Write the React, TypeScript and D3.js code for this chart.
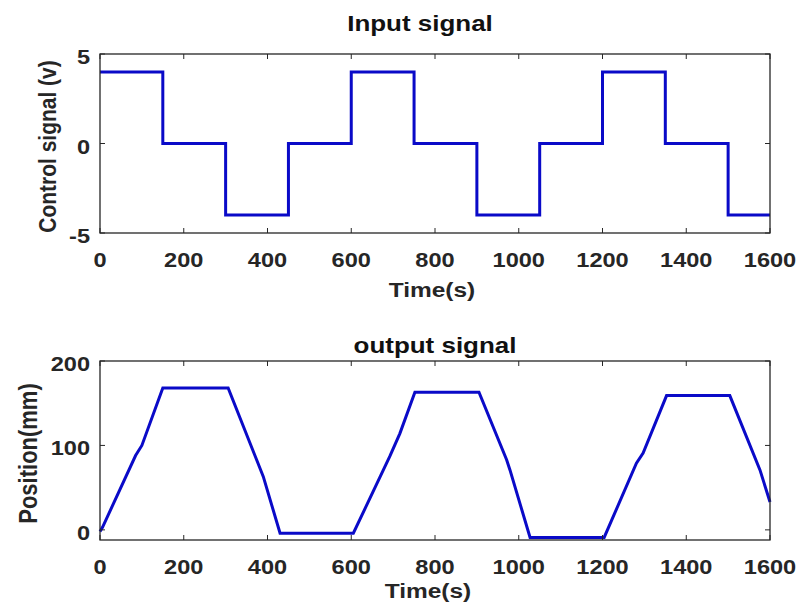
import React from "react";
import * as d3 from "d3";

const timeTicks = [0, 200, 400, 600, 800, 1000, 1200, 1400, 1600];
const inputTicks = [-5, 0, 5];
const outputTicks = [0, 100, 200];

const inputTime = [0, 150, 300, 450, 600, 750, 900, 1050, 1200, 1350, 1500, 1600];
const inputValue = [4, 0, -4, 0, 4, 0, -4, 0, 4, 0, -4, -4];

const outputTime = [0, 6, 85, 100, 150, 306, 374, 390, 430, 605, 692, 716, 752, 905, 971, 979, 1027, 1204, 1281, 1297, 1353, 1504, 1576, 1600];
const outputValue = [-2, 3, 88, 100, 168, 168, 83, 63, -4, -4, 87, 114, 163, 163, 83, 71, -9, -9, 79, 91, 159, 159, 71, 33];

const FONT = "'Liberation Sans', Arial, sans-serif";
const SX = 1.15;
const LINE = "#0a0ac8";
const AXIS = "#262626";

type PanelProps = {
  top: number;
  bottom: number;
  yDomain: [number, number];
  yTicks: number[];
  times: number[];
  values: number[];
  step: boolean;
  title: string;
  titleX: number;
  titleY: number;
  yLabel: string;
  yLabelX: number;
  yLabelSize: number;
  xLabelX: number;
  xLabelY: number;
};

const left = 100;
const right = 770;

function Txt(props: { x: number; y: number; size: number; anchor?: string; rotate?: boolean; fill?: string; sx?: number; children: React.ReactNode }) {
  const { x, y, size, anchor = "middle", rotate = false, fill = AXIS, sx = SX, children } = props;
  const t = `translate(${x},${y}) scale(${sx},1)${rotate ? " rotate(-90)" : ""}`;
  return (
    <text transform={t} fontFamily={FONT} fontWeight="bold" fontSize={size} textAnchor={anchor} fill={fill}>
      {children}
    </text>
  );
}

function Panel(p: PanelProps) {
  const x = d3.scaleLinear().domain([0, 1600]).range([left, right]);
  const y = d3.scaleLinear().domain(p.yDomain).range([p.bottom, p.top]);
  const pts = p.times.map((t, i) => [t, p.values[i]] as [number, number]);
  const line = d3
    .line<[number, number]>()
    .x((d) => x(d[0]))
    .y((d) => y(d[1]))
    .curve(p.step ? d3.curveStepAfter : d3.curveLinear);
  const tl = 5;
  return (
    <g>
      <path d={line(pts) || ""} fill="none" stroke={LINE} strokeWidth={3} strokeLinejoin="miter" />
      <rect x={left} y={p.top} width={right - left} height={p.bottom - p.top} fill="none" stroke={AXIS} strokeWidth={1.3} />
      {timeTicks.map((t) => (
        <g key={"x" + t}>
          <line x1={x(t)} x2={x(t)} y1={p.bottom} y2={p.bottom - tl} stroke={AXIS} strokeWidth={1} />
          <line x1={x(t)} x2={x(t)} y1={p.top} y2={p.top + tl} stroke={AXIS} strokeWidth={1} />
          <Txt x={x(t)} y={p.bottom + 34} size={20.5}>{t}</Txt>
        </g>
      ))}
      {p.yTicks.map((v) => (
        <g key={"y" + v}>
          <line x1={left} x2={left + tl} y1={y(v)} y2={y(v)} stroke={AXIS} strokeWidth={1} />
          <line x1={right} x2={right - tl} y1={y(v)} y2={y(v)} stroke={AXIS} strokeWidth={1} />
          <Txt x={90} y={y(v) + 10} size={20.5} anchor="end">{v}</Txt>
        </g>
      ))}
      <Txt x={p.titleX} y={p.titleY} size={22} sx={1.18} fill="#111">{p.title}</Txt>
      <Txt x={p.xLabelX} y={p.xLabelY} size={21} sx={1.165}>Time(s)</Txt>
      <Txt x={p.yLabelX} y={(p.top + p.bottom) / 2 + 3} size={p.yLabelSize} rotate>{p.yLabel}</Txt>
    </g>
  );
}

export default function App() {
  return (
    <svg width={798} height={603} style={{ position: "absolute", left: 0, top: 0, background: "#fff" }}>
      <rect width={798} height={603} fill="#fff" />
      <Panel
        top={54}
        bottom={233}
        yDomain={[-5, 5]}
        yTicks={inputTicks}
        times={inputTime}
        values={inputValue}
        step={true}
        title="Input signal"
        titleX={420}
        titleY={31}
        yLabel="Control signal (v)"
        yLabelX={56}
        yLabelSize={21}
        xLabelX={432}
        xLabelY={297}
      />
      <Panel
        top={361}
        bottom={540}
        yDomain={[-12, 200]}
        yTicks={outputTicks}
        times={outputTime}
        values={outputValue}
        step={false}
        title="output signal"
        titleX={435}
        titleY={353}
        yLabel="Position(mm)"
        yLabelX={37}
        yLabelSize={22}
        xLabelX={428}
        xLabelY={598}
      />
    </svg>
  );
}
